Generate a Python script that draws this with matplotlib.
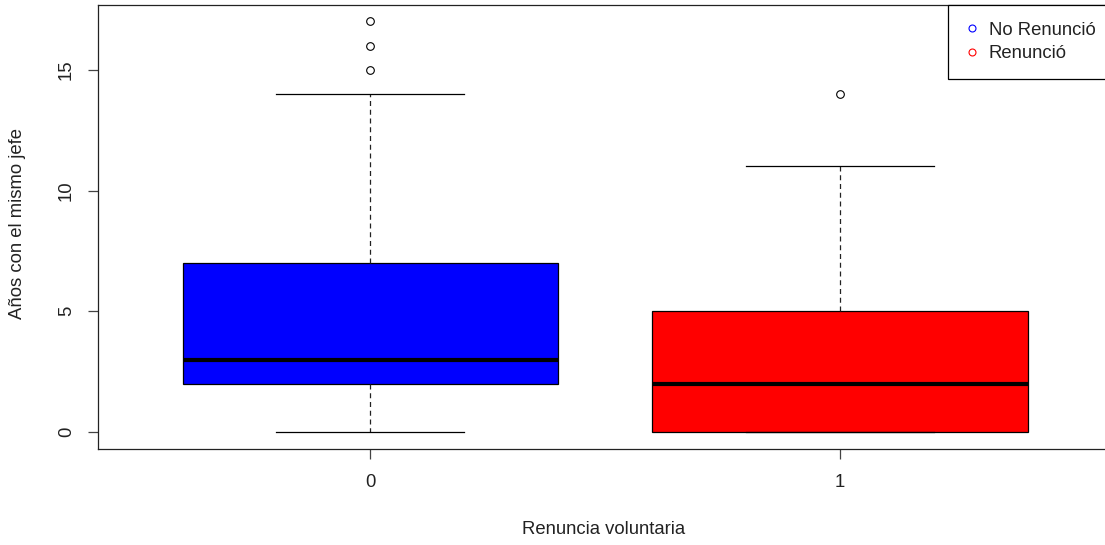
import matplotlib
matplotlib.use("Agg")
import matplotlib.pyplot as plt
from matplotlib.lines import Line2D

plt.rcParams['font.family'] = ['Liberation Sans', 'DejaVu Sans']

# Years with the same boss, by voluntary resignation (0 = stayed, 1 = resigned)
groups = ["0", "1"]
whisker_low = [0, 0]
q1 = [2, 0]
median = [3, 2]
q3 = [7, 5]
whisker_high = [14, 11]
outliers = [[15, 16, 17], [14]]
fill_colors = ["#0000FF", "#FF0000"]
legend_labels = ["No Renunció", "Renunció"]

stats = []
for i, g in enumerate(groups):
    stats.append(dict(label=g, whislo=whisker_low[i], q1=q1[i], med=median[i],
                      q3=q3[i], whishi=whisker_high[i], fliers=outliers[i]))

W, H = 1105, 545
fig = plt.figure(figsize=(W / 100, H / 100), dpi=100)
left, right, top, bottom = 98, 1112, 5, 448.5
ax = fig.add_axes([left / W, (H - bottom) / H, (right - left) / W, (bottom - top) / H])

lw = 0.9
fs = 13.3
bp = ax.bxp(stats, positions=[1, 2], widths=0.8, patch_artist=True,
            showfliers=True,
            boxprops=dict(edgecolor="black", linewidth=lw),
            medianprops=dict(color="black", linewidth=3.0, solid_capstyle="butt"),
            whiskerprops=dict(color="#222222", linewidth=lw, linestyle=(0, (4, 3))),
            capprops=dict(color="black", linewidth=lw),
            flierprops=dict(marker="o", markerfacecolor="none", markeredgecolor="black",
                            markersize=5.5, markeredgewidth=0.8))
for patch, c in zip(bp["boxes"], fill_colors):
    patch.set_facecolor(c)
for cap in bp["caps"]:
    x0, x1 = cap.get_xdata()
    c = (x0 + x1) / 2
    cap.set_xdata([c - 0.2, c + 0.2])

ax.set_xlim(0.42, 2.58)
ax.set_ylim(-0.68, 17.68)
ax.set_yticks([0, 5, 10, 15])
ax.set_yticklabels(["0", "5", "10", "15"], rotation=90, va="center")
ax.set_xticks([1, 2])
ax.set_xticklabels(groups)

for s in ax.spines.values():
    s.set_linewidth(lw)
    s.set_color("#222222")
ax.tick_params(axis="both", length=7.5, width=lw, color="#444444", labelsize=fs,
               labelcolor="#222222")
ax.tick_params(axis="y", pad=9)
ax.tick_params(axis="x", pad=11)

fig.text(18 / W, 1 - 223 / H, "Años con el mismo jefe", rotation=90, ha="center",
         va="center", fontsize=fs, color="#222222")
fig.text(604 / W, 1 - 530 / H, "Renuncia voluntaria", ha="center", va="center",
         fontsize=fs, color="#222222")

handles = [Line2D([], [], linestyle="none", marker="o", markerfacecolor="none",
                  markeredgecolor=c, markersize=5, markeredgewidth=0.8)
           for c in fill_colors]
leg = ax.legend(handles, legend_labels, loc="upper right", bbox_to_anchor=(1, 1),
                borderaxespad=0, fancybox=False, framealpha=1, edgecolor="black",
                fontsize=fs, handlelength=0.8, handletextpad=0.5,
                borderpad=0.9, labelspacing=0.35, labelcolor="#222222")
leg.get_frame().set_linewidth(lw)

fig.savefig("out.png", dpi=100)
